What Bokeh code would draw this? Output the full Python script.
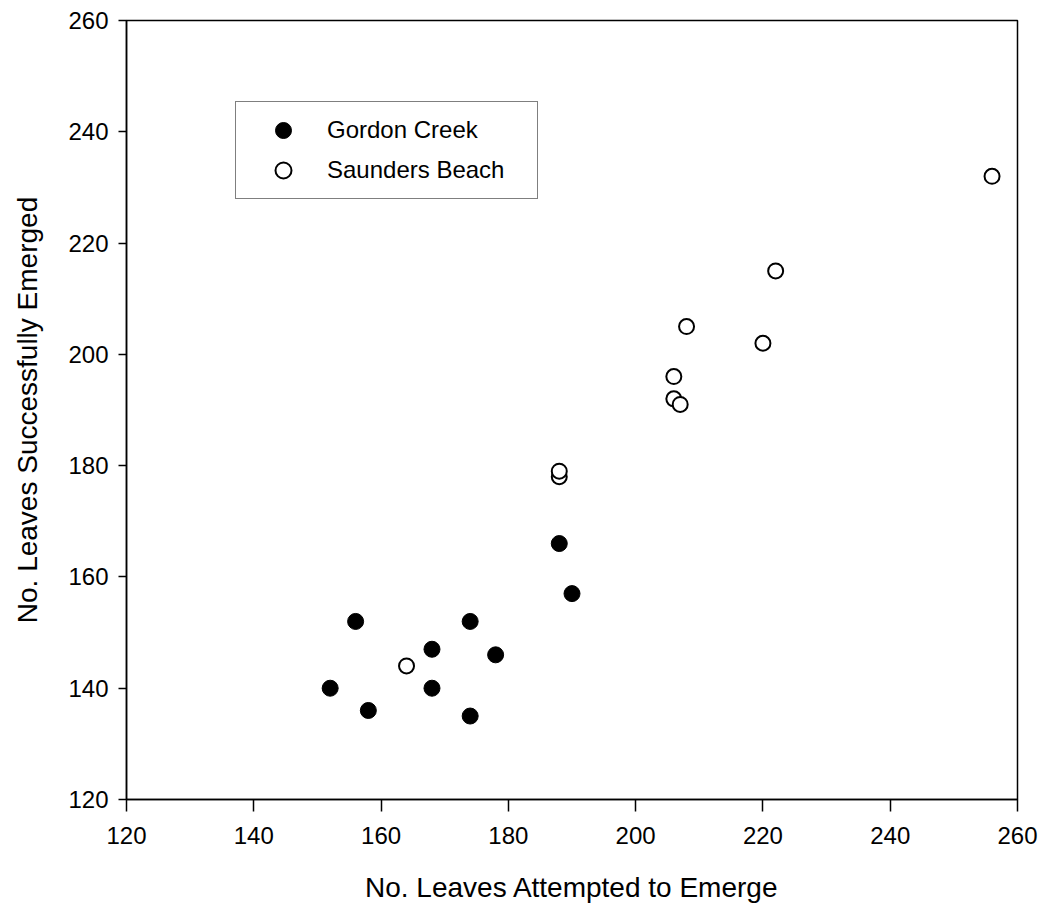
from bokeh.plotting import figure
from bokeh.models import Range1d, FixedTicker, Legend, LegendItem
from bokeh.embed import file_html
from bokeh.resources import INLINE

# Data
gc_x = [152, 156, 158, 168, 168, 174, 174, 178, 188, 190]
gc_y = [140, 152, 136, 147, 140, 152, 135, 146, 166, 157]

sb_x = [164, 188, 188, 206, 206, 207, 208, 220, 222, 256]
sb_y = [144, 178, 179, 196, 192, 191, 205, 202, 215, 232]

x_ticks = [120, 140, 160, 180, 200, 220, 240, 260]
y_ticks = [120, 140, 160, 180, 200, 220, 240, 260]

x_label = "No. Leaves Attempted to Emerge"
y_label = "No. Leaves Successfully Emerged"
series_names = ["Gordon Creek", "Saunders Beach"]

FONT = "Liberation Sans"

p = figure(width=1045, height=914, output_backend="svg", toolbar_location=None,
           x_range=Range1d(x_ticks[0], x_ticks[-1]), y_range=Range1d(y_ticks[0], y_ticks[-1]),
           min_border_left=126, min_border_right=28, min_border_top=20, min_border_bottom=115)
p.grid.visible = False
p.outline_line_color = "black"
p.outline_line_width = 1.5
p.background_fill_color = "white"
p.border_fill_color = "white"

r1 = p.scatter(gc_x, gc_y, size=16, fill_color="black", line_color="black", line_width=1)
r2 = p.scatter(sb_x, sb_y, size=15, fill_color="white", line_color="black", line_width=2)

p.xaxis.ticker = FixedTicker(ticks=x_ticks)
p.yaxis.ticker = FixedTicker(ticks=y_ticks)
for ax in (p.xaxis[0], p.yaxis[0]):
    ax.major_tick_in = 0
    ax.minor_tick_in = 0
    ax.minor_tick_out = 0
    ax.axis_line_width = 1.5
    ax.major_tick_line_width = 1.5
    ax.axis_line_color = "black"
    ax.major_tick_line_color = "black"
    ax.major_label_text_font = FONT
    ax.major_label_text_font_size = "24px"
    ax.major_label_text_color = "black"
    ax.axis_label_text_font = FONT
    ax.axis_label_text_font_size = "28px"
    ax.axis_label_text_font_style = "normal"
    ax.axis_label_text_color = "black"

p.xaxis.major_tick_out = 12
p.yaxis.major_tick_out = 8
p.xaxis.major_label_standoff = 15
p.yaxis.major_label_standoff = 10
p.xaxis.axis_label = x_label
p.yaxis.axis_label = y_label
p.xaxis.axis_label_standoff = 25
p.yaxis.axis_label_standoff = 22

legend = Legend(items=[LegendItem(label=series_names[0], renderers=[r1]),
                       LegendItem(label=series_names[1], renderers=[r2])],
                location=(109, 600))
legend.label_text_font = FONT
legend.label_text_font_size = "24px"
legend.label_text_color = "black"
legend.border_line_color = "black"
legend.border_line_width = 1.5
legend.background_fill_alpha = 1.0
legend.padding = 8
legend.spacing = 0
legend.glyph_width = 78
legend.glyph_height = 40
legend.label_height = 30
legend.label_width = 202
legend.label_standoff = 5
legend.margin = 0
p.add_layout(legend, "center")

open("out.html", "w").write(file_html(p, INLINE))
